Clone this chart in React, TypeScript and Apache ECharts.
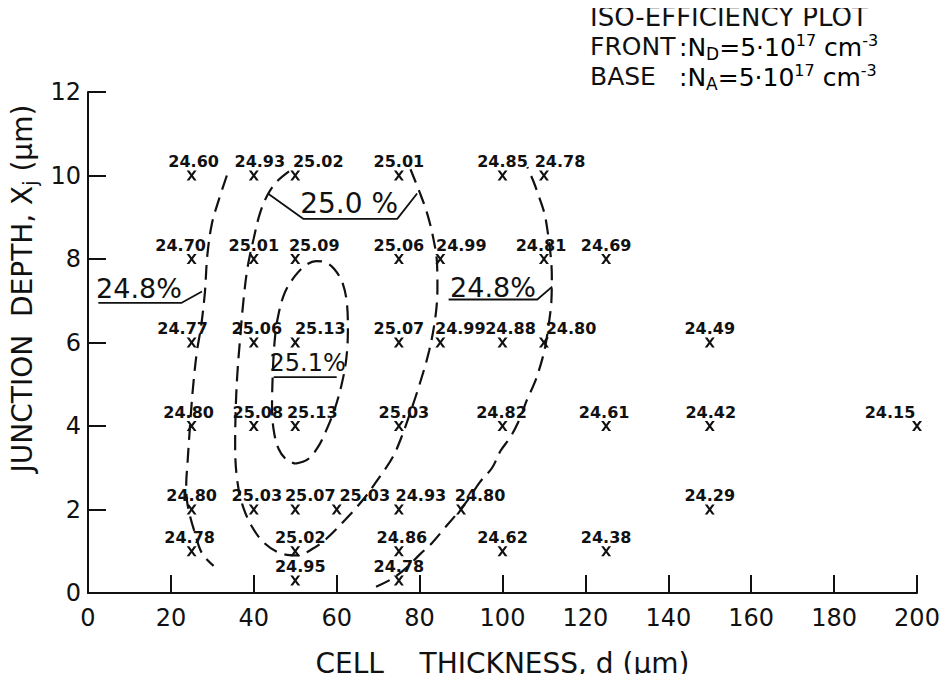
import React, { useEffect, useRef } from "react";
import * as echarts from "echarts";

// ---- data points: cell thickness d (µm), junction depth Xj (µm), efficiency (%)
const thickness = [
  25, 40, 50, 75, 100, 110,
  25, 40, 50, 75, 85, 110, 125,
  25, 40, 50, 75, 85, 100, 110, 150,
  25, 40, 50, 75, 100, 125, 150, 200,
  25, 40, 50, 60, 75, 90, 150,
  25, 50, 75, 100, 125,
  50, 75,
];
const depth = [
  10, 10, 10, 10, 10, 10,
  8, 8, 8, 8, 8, 8, 8,
  6, 6, 6, 6, 6, 6, 6, 6,
  4, 4, 4, 4, 4, 4, 4, 4,
  2, 2, 2, 2, 2, 2, 2,
  1, 1, 1, 1, 1,
  0.3, 0.3,
];
const efficiency = [
  24.6, 24.93, 25.02, 25.01, 24.85, 24.78,
  24.7, 25.01, 25.09, 25.06, 24.99, 24.81, 24.69,
  24.77, 25.06, 25.13, 25.07, 24.99, 24.88, 24.8, 24.49,
  24.8, 25.08, 25.13, 25.03, 24.82, 24.61, 24.42, 24.15,
  24.8, 25.03, 25.07, 25.03, 24.93, 24.8, 24.29,
  24.78, 25.02, 24.86, 24.62, 24.38,
  24.95, 24.78,
];
// label horizontal shift in px (style only)
const labelShift = [
  2, 6, 23, 0, 0, 16,
  -11, 0, 19, 0, 21, -3, 0,
  -9, 3, 25, 0, 20, 8, 27, 0,
  -3, 4, 17, 5, -1, -2, 1, -27,
  0, 3, 15, 28, 22, 19, 0,
  -2, 5, 3, 0, 0,
  5, 0,
];

// ---- iso-efficiency contours (dashed)
const c251X = [50, 53, 55.5, 57.5, 59.5, 61.2, 62.3, 62.7, 62.5, 61.5, 59.5, 57, 55, 52.5, 50, 47.5, 45.8, 45, 44.6, 44.4, 44.8, 46, 48, 50];
const c251Y = [3.1, 3.2, 3.5, 3.9, 4.4, 5.0, 5.6, 6.3, 6.9, 7.4, 7.75, 7.93, 7.95, 7.85, 7.6, 7.2, 6.6, 6.0, 5.3, 4.5, 3.9, 3.45, 3.18, 3.1];

const c250X = [48.5, 45.5, 43.4, 41.5, 40, 38.5, 37.5, 36.7, 36, 35.6, 35.5, 36.0, 37.3, 39.5, 42.5, 46.5, 50.4, 54.4, 57.5, 62, 66.5, 70.5, 73.5, 75.5, 77.5, 80, 82.3, 83.8, 84.3, 84.2, 83.3, 81.8, 80, 77.8];
const c250Y = [10.1, 9.85, 9.55, 9.1, 8.5, 7.8, 7.0, 6.1, 5.2, 4.3, 3.5, 2.7, 2.1, 1.6, 1.2, 0.95, 0.9, 1.07, 1.3, 1.75, 2.25, 2.8, 3.25, 3.7, 4.25, 5.0, 5.8, 6.6, 7.3, 7.9, 8.5, 9.1, 9.6, 10.15];

const c248LeftX = [33.5, 31.5, 29.9, 28.8, 28.2, 27.3, 26.3, 25.5, 24.9, 24.4, 24.0, 23.7, 23.9, 24.6, 25.6, 27.5, 30.3];
const c248LeftY = [10.0, 9.4, 8.85, 8.1, 7.2, 6.4, 5.8, 5.1, 4.4, 3.7, 3.1, 2.6, 2.2, 1.85, 1.5, 0.95, 0.65];

const c248RightX = [69.5, 73.5, 77, 80, 83, 86, 89, 91.8, 94.5, 97.5, 99.5, 102, 104.3, 105.8, 107.8, 109.3, 110.3, 111.1, 111.8, 111.9, 111.6, 110.9, 110.1, 108.6, 107.5, 106];
const c248RightY = [0.15, 0.35, 0.62, 0.92, 1.2, 1.55, 1.9, 2.25, 2.65, 3.0, 3.4, 3.75, 4.2, 4.6, 5.05, 5.5, 5.9, 6.4, 7.0, 7.6, 8.1, 8.65, 9.1, 9.55, 9.85, 10.2];

// ---- contour label leaders (solid)
const leaderLeftX = [2.5, 22.6, 27.5];
const leaderLeftY = [6.95, 6.95, 7.22];
const leaderRightX = [87, 108.4, 112];
const leaderRightY = [7.03, 7.03, 7.34];
const leaderTopX = [43.4, 52, 74.6, 79.4];
const leaderTopY = [9.57, 8.96, 8.96, 9.57];
const leaderInnerX = [44.8, 60];
const leaderInnerY = [5.17, 5.17];

// ---- contour labels
const contourLabelText = ["24.8%", "25.0 %", "25.1%", "24.8%"];
const contourLabelX = [12.3, 63.0, 53.0, 97.7];
const contourLabelY = [7.3, 9.33, 5.52, 7.32];
const contourLabelSize = [27, 28, 24, 27];

const INK = "#111111";
const FONT = "'DejaVu Sans', 'Liberation Sans', sans-serif";

const zip = (xs: number[], ys: number[]) => xs.map((x, i) => [x, ys[i]]);

const X_PATH =
  "path://M0,0H3.2L6,4L8.8,0H12L7.6,6L12,12H8.8L6,8L3.2,12H0L4.4,6Z";

const formulaRich = {
  n: { fontFamily: FONT, fontSize: 25, lineHeight: 30, color: INK },
  sup: { fontFamily: FONT, fontSize: 16, verticalAlign: "top", color: INK },
  sub: { fontFamily: FONT, fontSize: 17, verticalAlign: "bottom", color: INK },
};

export default function App() {
  const ref = useRef<HTMLDivElement>(null);

  useEffect(() => {
    if (!ref.current) return;
    const chart = echarts.init(ref.current, undefined, { renderer: "svg" });

    const contour = (name: string, xs: number[], ys: number[]) => ({
      name,
      type: "line",
      data: zip(xs, ys),
      symbol: "none",
      showSymbol: false,
      smooth: 0.35,
      silent: true,
      z: 2,
      lineStyle: { color: INK, width: 2.2, type: [15, 8] },
    });
    const leader = (name: string, xs: number[], ys: number[]) => ({
      name,
      type: "line",
      data: zip(xs, ys),
      symbol: "none",
      showSymbol: false,
      silent: true,
      z: 2,
      lineStyle: { color: INK, width: 1.8, type: "solid" },
    });

    const option: any = {
      animation: false,
      backgroundColor: "#ffffff",
      grid: { left: 88, right: 34, top: 92, bottom: 89, containLabel: false, outerBoundsMode: "none" },
      xAxis: {
        type: "value",
        min: 0,
        max: 200,
        interval: 20,
        name: "CELL    THICKNESS, d (μm)",
        nameLocation: "middle",
        nameGap: 58,
        nameTextStyle: { fontFamily: FONT, fontSize: 28, lineHeight: 24, color: INK },
        axisLine: { show: true, onZero: false, lineStyle: { color: INK, width: 2 } },
        axisTick: { show: true, inside: true, length: 18, lineStyle: { color: INK, width: 2 } },
        axisLabel: { fontFamily: FONT, fontSize: 24, color: INK, margin: 13 },
        splitLine: { show: false },
      },
      yAxis: {
        type: "value",
        min: 0,
        max: 12,
        interval: 2,
        name: "JUNCTION  DEPTH, X{sub|j} (μm)",
        nameLocation: "middle",
        nameGap: 42,
        nameTextStyle: {
          fontFamily: FONT,
          fontSize: 28,
          color: INK,
          lineHeight: 34,
          padding: [0, 0, 0, 108],
          rich: {
            sub: { fontFamily: FONT, fontSize: 19, lineHeight: 19, verticalAlign: "bottom", color: INK },
          },
        },
        axisLine: { show: true, onZero: false, lineStyle: { color: INK, width: 2 } },
        axisTick: { show: true, inside: true, length: 18, lineStyle: { color: INK, width: 2 } },
        axisLabel: { fontFamily: FONT, fontSize: 24, color: INK, margin: 7 },
        splitLine: { show: false },
      },
      graphic: [
        {
          type: "text",
          left: 590,
          top: 4,
          style: { text: "ISO-EFFICIENCY PLOT", font: `26px ${FONT}`, lineHeight: 20, fill: INK },
        },
        {
          type: "text",
          left: 590,
          top: 34,
          style: { text: "FRONT", font: `25px ${FONT}`, fill: INK },
        },
        {
          type: "text",
          left: 679,
          top: 32,
          style: { text: "{n|:N}{sub|D}{n|=5·10}{sup|17}{n| cm}{sup|-3}", rich: formulaRich },
        },
        {
          type: "text",
          left: 590,
          top: 64,
          style: { text: "BASE", font: `25px ${FONT}`, fill: INK },
        },
        {
          type: "text",
          left: 679,
          top: 62,
          style: { text: "{n|:N}{sub|A}{n|=5·10}{sup|17}{n| cm}{sup|-3}", rich: formulaRich },
        },
      ],
      series: [
        contour("25.1% contour", c251X, c251Y),
        contour("25.0% contour", c250X, c250Y),
        contour("24.8% contour (left)", c248LeftX, c248LeftY),
        contour("24.8% contour (right)", c248RightX, c248RightY),
        leader("leader left", leaderLeftX, leaderLeftY),
        leader("leader right", leaderRightX, leaderRightY),
        leader("leader top", leaderTopX, leaderTopY),
        leader("leader inner", leaderInnerX, leaderInnerY),
        {
          name: "contour labels",
          type: "scatter",
          symbolSize: 0,
          silent: true,
          z: 3,
          itemStyle: { opacity: 1, color: INK },
          data: contourLabelText.map((t, i) => ({
            value: [contourLabelX[i], contourLabelY[i], t],
            label: { fontSize: contourLabelSize[i] },
          })),
          label: {
            show: true,
            position: "inside",
            formatter: (p: any) => p.value[2],
            fontFamily: FONT,
            color: INK,
            opacity: 1,
          },
        },
        {
          name: "efficiency",
          type: "scatter",
          symbol: X_PATH,
          symbolSize: [10, 10],
          silent: true,
          z: 4,
          itemStyle: { color: INK, opacity: 1 },
          data: thickness.map((t, i) => ({
            value: [t, depth[i], efficiency[i]],
            label: { offset: [labelShift[i], 0] },
          })),
          label: {
            show: true,
            position: "top",
            distance: 1,
            formatter: (p: any) => p.value[2].toFixed(2),
            fontFamily: FONT,
            fontSize: 16,
            fontWeight: "bold",
            color: INK,
            opacity: 1,
          },
        },
      ],
    };

    chart.setOption(option);
    return () => chart.dispose();
  }, []);

  return <div ref={ref} style={{ width: 951, height: 682, margin: -8 }} />;
}
